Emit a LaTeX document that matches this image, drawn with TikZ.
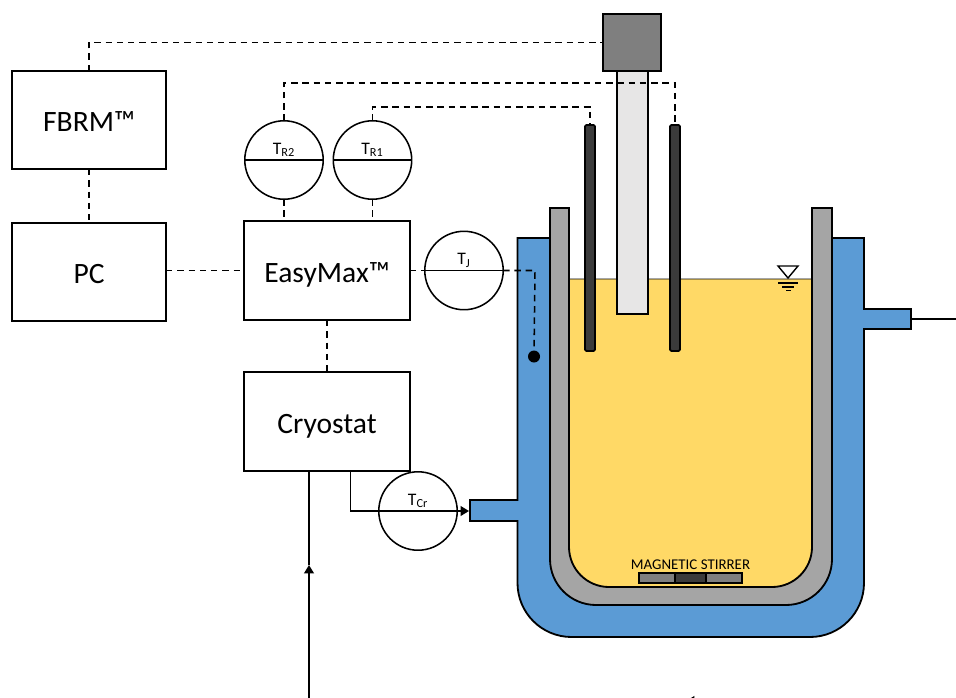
\documentclass[tikz,border=0pt]{standalone}
\usepackage{fontspec}
\setmainfont{Carlito}
\usetikzlibrary{arrows.meta}
\definecolor{jacketblue}{HTML}{5B9BD5}
\definecolor{liquidyellow}{HTML}{FFD966}
\definecolor{wallgray}{HTML}{A5A5A5}
\definecolor{rodgray}{HTML}{3B3B3B}
\definecolor{motorgray}{HTML}{7F7F7F}
\definecolor{probegray}{HTML}{E7E6E6}
\tikzset{
  unitbox/.style={draw,line width=1.2pt,outer sep=0pt,inner sep=0pt,text height=17pt,text depth=0pt,font=\fontsize{21}{24}\selectfont},
  gauge/.style={draw,circle,line width=1.1pt,minimum size=1.96cm,outer sep=0pt,inner sep=0pt},
  gaugelabel/.style={anchor=south,inner sep=0pt,yshift=2pt,font=\fontsize{12.5}{14}\selectfont},
  signal/.style={line width=1.1pt,dash pattern=on 4.6pt off 3.4pt},
  pipe/.style={line width=1.1pt},
  part/.style={draw,line width=1.3pt},
  rod/.style={part,fill=rodgray,rounded corners=1pt,minimum width=0.25cm,minimum height=5.65cm,outer sep=0pt,inner sep=0pt},
  tip/.style={-{Triangle[length=6pt,width=7pt]}}
}
\begin{document}
\begin{tikzpicture}[x=0.025cm,y=-0.025cm]
    \useasboundingbox (0,0) rectangle (956,698);
    \clip (0,0) rectangle (956,698);
    \draw[part,fill=jacketblue] (550,238) -- (517.5,238) -- (517.5,500) -- (470,500) -- (470,521) -- (517.5,521)
        [rounded corners=1.35cm] -- (517.5,637) -- (864,637) [sharp corners] -- (864,329) -- (911,329) -- (911,309)
        -- (864,309) -- (864,238) -- (832,238) -- (832,560) -- (550,560) -- cycle;
    \draw[part,fill=liquidyellow,line width=0.6pt] (569,279) [rounded corners=1cm] -- (569,587) -- (812,587) [sharp corners] -- (812,279) -- cycle;
    \draw[part,fill=wallgray] (550,208) -- (569,208) [rounded corners=1cm] -- (569,587) -- (812,587) [sharp corners]
        -- (812,208) -- (832,208) [rounded corners=1.15cm] -- (832,605) -- (550,605) [sharp corners] -- cycle;
    \node[part,fill=motorgray,minimum width=1.45cm,minimum height=1.425cm,outer sep=0pt,inner sep=0pt] (motor) at (632,42.5) {};
    \node[part,fill=probegray,minimum width=0.775cm,minimum height=6.075cm,outer sep=0pt,inner sep=0pt] (probe) at (632.5,192.5) {};
    \node[rod] (rodleft) at (590,238) {};
    \node[rod] (rodright) at (675,238) {};
    \node[part,fill=motorgray,line width=1pt,minimum width=2.575cm,minimum height=0.25cm,outer sep=0pt,inner sep=0pt] (stirrer) at (690.5,578) {};
    \node[part,fill=rodgray,line width=1pt,minimum width=0.775cm,minimum height=0.25cm,outer sep=0pt,inner sep=0pt] (stirbar) at (690.5,578) {};
    \node[font=\fontsize{10.6}{12}\selectfont,inner sep=0pt] (stirrerlabel) at (690.5,564.5) {MAGNETIC STIRRER};
    \draw[line width=1pt] (778,266) -- (798,266) -- (788,278) -- cycle;
    \draw[line width=1pt] (778,283) -- (798,283);
    \draw[line width=1pt] (782,287) -- (794,287);
    \draw[line width=1pt] (786,290.5) -- (791,290.5);
    \node[unitbox,minimum width=3.85cm,minimum height=2.45cm] (fbrm) at (89,120) {FBRM™};
    \node[unitbox,minimum width=3.85cm,minimum height=2.45cm] (pc) at (89,272) {PC};
    \node[unitbox,minimum width=4.15cm,minimum height=2.475cm] (easymax) at (327,270.5) {EasyMax™};
    \node[unitbox,minimum width=4.15cm,minimum height=2.475cm] (cryostat) at (327,421.5) {Cryostat};
    \node[gauge] (tr2) at (284,160) {};
    \node[gauge] (tr1) at (372.5,160) {};
    \node[gauge] (tj) at (464,270.5) {};
    \node[gauge] (tcr) at (418,511) {};
    \node[gaugelabel] (tr2label) at (tr2.center) {T\textsubscript{R2}};
    \node[gaugelabel] (tr1label) at (tr1.center) {T\textsubscript{R1}};
    \node[gaugelabel] (tjlabel) at (tj.center) {T\textsubscript{J}};
    \node[gaugelabel] (tcrlabel) at (tcr.center) {T\textsubscript{Cr}};
    \draw[pipe] (tr2.west) -- (tr2.east);
    \draw[pipe] (tr1.west) -- (tr1.east);
    \draw[pipe] (tj.west) -- (tj.east);
    \node[circle,fill=black,minimum size=0.3cm,inner sep=0pt] (tjdot) at (534,356.5) {};
    \coordinate (tr2bend) at (675,83);
    \coordinate (tr1bend) at (590,107);
    \coordinate (tjbend) at (535,270.5);
    \coordinate (cryostatout) at (350.5,471);
    \coordinate (inlet) at (469,511);
    \coordinate (cooler) at (350.5,511);
    \coordinate (feedtop) at (309,471);
    \coordinate (feedmid) at (309,565);
    \coordinate (feedend) at (309,698);
    \coordinate (outlet) at (911,319);
    \coordinate (drain) at (956,319);
    \coordinate (returnstart) at (956,701);
    \coordinate (returnend) at (686,701);
    \draw[signal] (fbrm.north) |- (motor.west);
    \draw[signal] (fbrm.south) -- (pc.north);
    \draw[signal] (pc.east |- easymax.west) -- (easymax.west);
    \draw[signal] (tr2.north) |- (tr2bend) -- (rodright.north);
    \draw[signal] (tr1.north) |- (tr1bend) -- (rodleft.north);
    \draw[signal] (tr2.south) -- (tr2.south |- easymax.north);
    \draw[signal] (tr1.south) -- (tr1.south |- easymax.north);
    \draw[signal] (easymax.east) -- (tj.west);
    \draw[signal] (tj.east) -- (tjbend) -- (tjdot);
    \draw[signal] (easymax.south) -- (cryostat.north);
    \draw[pipe] (cryostatout) -- (cooler) -- (tcr.west);
    \draw[pipe,tip] (tcr.west) -- (inlet);
    \draw[pipe,tip] (feedend) -- (feedmid);
    \draw[pipe] (feedmid) -- (feedtop);
    \draw[pipe] (outlet) -- (drain);
    \draw[pipe,tip] (returnstart) -- (returnend);
\end{tikzpicture}
\end{document}
